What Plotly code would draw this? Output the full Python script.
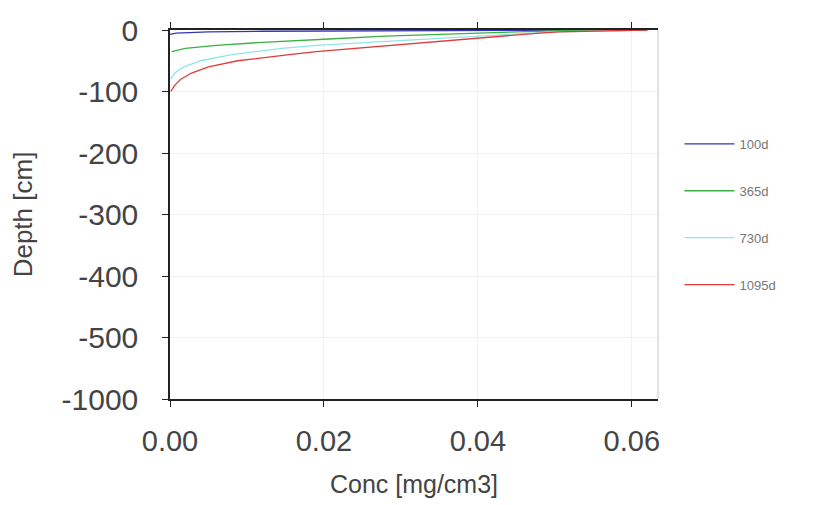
import plotly.graph_objects as go

# ---- data ----
series_names = ["100d", "365d", "730d", "1095d"]
series_colors = ["#3535b0", "#3cb043", "#8fe6e6", "#e23a3a"]

depth_a = [0, -0.5, -1, -1.5, -2, -3, -4, -5, -7]
conc_a = [0.062, 0.040, 0.030, 0.020, 0.012, 0.005, 0.002, 0.0008, 0.0]

depth_b = [0, -1, -3, -5, -7, -10, -15, -20, -25, -30, -35]
conc_b = [0.062, 0.051, 0.045, 0.040, 0.033, 0.028, 0.020, 0.012, 0.006, 0.002, 0.0002]

depth_c = [0, -1, -3, -5, -10, -15, -20, -25, -30, -35, -40, -50, -60, -70, -80]
conc_c = [0.062, 0.056, 0.050, 0.047, 0.040, 0.033, 0.025, 0.019, 0.0145, 0.011, 0.008, 0.004, 0.0018, 0.0006, 0.0001]

depth_d = [0, -1, -3, -5, -10, -15, -20, -25, -30, -35, -40, -50, -60, -70, -80, -90, -100]
conc_d = [0.062, 0.056, 0.0505, 0.048, 0.043, 0.038, 0.033, 0.028, 0.024, 0.019, 0.0155, 0.0088, 0.0050, 0.0028, 0.0014, 0.0006, 0.0001]

y_tickvals = [0, -100, -200, -300, -400, -500, -600]
y_ticktext = ["0", "-100", "-200", "-300", "-400", "-500", "-1000"]
x_tickvals = [0.0, 0.02, 0.04, 0.06]
x_ticktext = ["0.00", "0.02", "0.04", "0.06"]

depths = [depth_a, depth_b, depth_c, depth_d]
concs = [conc_a, conc_b, conc_c, conc_d]

fig = go.Figure()
for name, col, d, c in zip(series_names, series_colors, depths, concs):
    fig.add_trace(go.Scatter(x=c, y=d, mode="lines", name=name, legendgroup=name,
                             line=dict(color=col, width=1.3)))

font_family = "Liberation Sans, Arial, sans-serif"
fig.update_layout(
    width=817, height=505,
    margin=dict(l=162, r=167, t=22, b=114, autoexpand=False),
    paper_bgcolor="white", plot_bgcolor="white",
    font=dict(family=font_family, color="#333333"),
    showlegend=True,
    legend=dict(x=1.044, y=0.732, xanchor="left", yanchor="top",
                font=dict(size=13, color="#777777"),
                tracegroupgap=27, itemwidth=50, bgcolor="rgba(0,0,0,0)"),
    xaxis=dict(range=[0, 0.0634], tickvals=x_tickvals, ticktext=x_ticktext,
               showline=True, linecolor="#222222", linewidth=1.5, mirror="ticks",
               ticks="outside", ticklen=6, tickcolor="#222222", automargin=False,
               showgrid=True, gridcolor="#f1f1f1", zeroline=False,
               tickfont=dict(size=29, color="#444444"), ticklabelstandoff=9,
               title=dict(text="Conc [mg/cm3]", font=dict(size=25, color="#444444"), standoff=20)),
    yaxis=dict(range=[-600, 0], tickvals=y_tickvals, ticktext=y_ticktext,
               showline=True, linecolor="#222222", linewidth=1.5, automargin=False,
               ticks="outside", ticklen=6, tickcolor="#222222",
               showgrid=True, gridcolor="#f1f1f1", zeroline=False,
               tickfont=dict(size=30, color="#444444"), ticklabelstandoff=18,
               title=dict(text="Depth [cm]", font=dict(size=26, color="#444444"), standoff=23)),
)
fig.add_shape(type="line", xref="paper", yref="paper", x0=1, x1=1, y0=0, y1=1,
              line=dict(color="#d8d8d8", width=1.5))

fig.write_html("out.html")
